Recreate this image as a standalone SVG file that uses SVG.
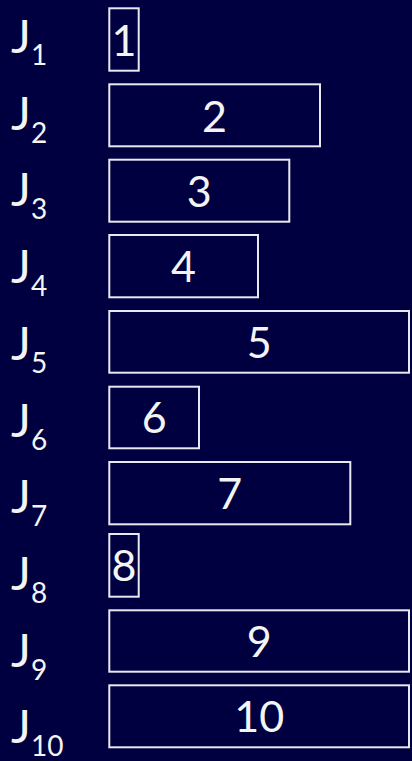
<svg xmlns="http://www.w3.org/2000/svg" width="412" height="761" viewBox="0 0 412 761">
<style>
.box{fill:none;stroke:#e8e8f0;stroke-width:2}
.num{font-family:Lato,"Liberation Sans",sans-serif;font-size:43px;fill:#f4f4f4;text-anchor:middle}
.lab{font-family:Lato,"Liberation Sans",sans-serif;font-size:47px;fill:#f4f4f4}
.sub{font-size:28px}
</style>
<rect width="412" height="761" fill="#000040"/>
<g id="labels">
<text class="lab" x="11" y="53">J<tspan class="sub" x="31" y="65">1</tspan></text>
<text class="lab" x="11" y="129.7">J<tspan class="sub" x="31" y="142.7">2</tspan></text>
<text class="lab" x="11" y="206.4">J<tspan class="sub" x="31" y="219.4">3</tspan></text>
<text class="lab" x="11" y="283.1">J<tspan class="sub" x="31" y="296.1">4</tspan></text>
<text class="lab" x="11" y="359.8">J<tspan class="sub" x="31" y="372.8">5</tspan></text>
<text class="lab" x="11" y="436.5">J<tspan class="sub" x="31" y="449.5">6</tspan></text>
<text class="lab" x="11" y="513.2">J<tspan class="sub" x="31" y="526.2">7</tspan></text>
<text class="lab" x="11" y="589.9">J<tspan class="sub" x="31" y="602.9">8</tspan></text>
<text class="lab" x="11" y="666.6">J<tspan class="sub" x="31" y="679.6">9</tspan></text>
<text class="lab" x="11" y="743.3">J<tspan class="sub" x="31" y="756.3">10</tspan></text>
</g>
<g id="job1"><rect class="box" x="109.3" y="8.3" width="29.4" height="62.4"/><text class="num" x="124" y="56">1</text></g>
<g id="job2"><rect class="box" x="109.3" y="84.3" width="210.7" height="62"/><text class="num" x="214.6" y="131.5">2</text></g>
<g id="job3"><rect class="box" x="109.3" y="159.7" width="180" height="62"/><text class="num" x="199.3" y="206.7">3</text></g>
<g id="job4"><rect class="box" x="109.3" y="235" width="148.7" height="62.3"/><text class="num" x="183.6" y="282">4</text></g>
<g id="job5"><rect class="box" x="109.3" y="311" width="299.7" height="61.7"/><text class="num" x="259.2" y="357.5">5</text></g>
<g id="job6"><rect class="box" x="109.3" y="386.7" width="89.7" height="61.6"/><text class="num" x="154.2" y="433">6</text></g>
<g id="job7"><rect class="box" x="109.3" y="462" width="241" height="62.3"/><text class="num" x="229.8" y="509">7</text></g>
<g id="job8"><rect class="box" x="109.3" y="534" width="29.4" height="62.7"/><text class="num" x="124" y="581">8</text></g>
<g id="job9"><rect class="box" x="109.3" y="610.3" width="299.7" height="61.4"/><text class="num" x="259.2" y="656.5">9</text></g>
<g id="job10"><rect class="box" x="109.3" y="685.3" width="299.7" height="62"/><text class="num" x="259.2" y="732">10</text></g>
</svg>
